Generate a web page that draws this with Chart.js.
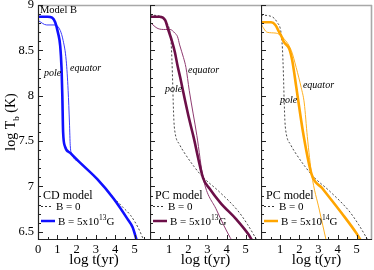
<!DOCTYPE html>
<html>
<head>
<meta charset="utf-8">
<script src="https://cdn.jsdelivr.net/npm/chart.js@4.4.1/dist/chart.umd.min.js"></script>
<style>
  html, body { margin: 0; padding: 0; background: #fff; }
  #wrap { position: relative; width: 374px; height: 270px; overflow: hidden; }
  canvas { position: absolute; top: 0; }
</style>
</head>
<body>
<div id="wrap">
  <canvas id="cd" width="150" height="270" style="left:0;width:150px;height:270px"></canvas>
  <canvas id="pc13" width="111" height="270" style="left:150px;width:111px;height:270px"></canvas>
  <canvas id="pc14" width="113" height="270" style="left:261px;width:113px;height:270px"></canvas>
</div>
<script>
// axis ticks
const tickYears = [0, 1, 2, 3, 4, 5];
const tickTemps = [6.5, 7, 7.5, 8, 8.5, 9];

// CD model, B = 5x10^13 G
const cdPoleLogt = [0, 0.5, 0.73, 0.89, 1.04, 1.15, 1.22, 1.26, 1.3, 1.4, 1.67, 2.19, 3.07, 3.9, 4.64, 4.9, 5.12];
const cdPoleLogT = [8.87, 8.87, 8.86, 8.81, 8.69, 8.55, 8.3, 8.0, 7.6, 7.44, 7.37, 7.26, 7.08, 6.87, 6.64, 6.55, 6.4];
const cdEquatorLogt = [0, 0.45, 0.89, 1.15, 1.3, 1.46, 1.56, 1.63, 1.67, 1.75, 2.19, 3.07, 3.9, 4.64, 4.9, 5.12];
const cdEquatorLogT = [8.83, 8.78, 8.78, 8.72, 8.61, 8.39, 8.06, 7.7, 7.45, 7.36, 7.26, 7.08, 6.87, 6.64, 6.55, 6.4];
const cdB0Logt = [0, 0.5, 0.73, 0.89, 1.04, 1.15, 1.22, 1.26, 1.3, 1.4, 1.67, 2.19, 3.07, 3.9, 4.4, 4.8, 5.2, 5.47];
const cdB0LogT = [8.87, 8.87, 8.86, 8.81, 8.69, 8.55, 8.3, 8.0, 7.6, 7.44, 7.37, 7.26, 7.08, 6.88, 6.77, 6.68, 6.54, 6.41];

// PC model, B = 0 (both PC panels)
const pcB0Logt = [0, 0.58, 0.84, 1.05, 1.12, 1.17, 1.21, 1.25, 1.32, 1.55, 1.8, 2.3, 2.73, 3.63, 4.6, 5.1, 5.58];
const pcB0LogT = [8.89, 8.87, 8.81, 8.69, 8.52, 8.25, 7.95, 7.72, 7.58, 7.46, 7.37, 7.22, 7.11, 6.94, 6.73, 6.58, 6.41];

// PC model, B = 5x10^13 G
const pc13PoleLogt = [0, 0.5, 0.8, 0.95, 1.15, 1.3, 1.44, 1.58, 1.84, 2.05, 2.26, 2.78, 3.1, 3.68, 4.5, 5.15, 5.32];
const pc13PoleLogT = [8.87, 8.87, 8.83, 8.73, 8.6, 8.48, 8.33, 8.2, 7.94, 7.74, 7.56, 7.09, 6.98, 6.82, 6.64, 6.47, 6.41];
const pc13EquatorLogt = [0, 0.42, 0.8, 1.05, 1.3, 1.44, 1.55, 1.75, 1.88, 2.05, 2.45, 2.78, 3.48, 4.18, 4.27];
const pc13EquatorLogT = [8.81, 8.74, 8.73, 8.73, 8.69, 8.65, 8.56, 8.42, 8.31, 8.06, 7.56, 7.09, 6.74, 6.44, 6.41];

// PC model, B = 5x10^14 G
const pc14PoleLogt = [0, 0.53, 0.75, 0.95, 1.1, 1.2, 1.47, 1.63, 1.84, 1.95, 2.21, 2.65, 3.2, 4.2, 5.0, 5.2];
const pc14PoleLogT = [8.81, 8.81, 8.78, 8.7, 8.64, 8.59, 8.52, 8.39, 8.1, 7.94, 7.58, 7.13, 6.98, 6.71, 6.48, 6.41];
const pc14EquatorLogt = [0, 0.32, 0.79, 1.1, 1.58, 1.84, 2.1, 2.26, 2.42, 2.65, 3.05, 3.4];
const pc14EquatorLogT = [8.79, 8.7, 8.69, 8.65, 8.5, 8.31, 8.09, 7.92, 7.55, 7.13, 6.74, 6.41];

const SERIF = '"Liberation Serif", "DejaVu Serif", serif';
Chart.defaults.font.family = SERIF;
Chart.defaults.color = '#000';

const pts = (xs, ys) => xs.map((x, i) => ({ x, y: ys[i] }));

function line(xs, ys, color, width, dash) {
  return {
    data: pts(xs, ys),
    borderColor: color,
    borderWidth: width,
    borderDash: dash || [],
    pointRadius: 0,
    cubicInterpolationMode: 'monotone',
    clip: 0
  };
}

// frame, inward ticks, labels and legend
function decor(p) {
  return {
    id: 'decor',
    afterDraw(chart) {
      const { ctx, chartArea: a, scales: { x, y } } = chart;
      ctx.save();
      ctx.strokeStyle = '#a8a8a8';
      ctx.lineWidth = 1.6;
      ctx.beginPath();
      ctx.moveTo(a.left, a.top + 0.5); ctx.lineTo(a.right, a.top + 0.5);
      if (p.rightEdge) { ctx.moveTo(a.right - 0.5, a.top); ctx.lineTo(a.right - 0.5, a.bottom); }
      ctx.stroke();

      ctx.strokeStyle = '#222';
      ctx.lineWidth = 1.2;
      ctx.beginPath();
      ctx.moveTo(a.left + 0.5, a.top); ctx.lineTo(a.left + 0.5, a.bottom);
      ctx.moveTo(a.left, a.bottom - 0.5); ctx.lineTo(a.right, a.bottom - 0.5);
      ctx.stroke();
      ctx.lineWidth = 1;
      ctx.beginPath();
      for (let k = 65; k <= 90; k++) {
        const py = Math.round(y.getPixelForValue(k / 10)) + 0.5;
        const len = k % 5 === 0 ? 5 : 3;
        ctx.moveTo(a.left, py); ctx.lineTo(a.left + len, py);
      }
      for (let k = 1; k <= 11; k++) {
        const px = Math.round(x.getPixelForValue(k / 2)) + 0.5;
        const len = k % 2 === 0 ? 5 : 3;
        ctx.moveTo(px, a.bottom); ctx.lineTo(px, a.bottom - len);
      }
      ctx.stroke();

      ctx.fillStyle = '#000';
      ctx.textBaseline = 'alphabetic';
      ctx.textAlign = 'left';
      if (p.modelTag) {
        ctx.font = '10.5px ' + SERIF;
        ctx.fillText(p.modelTag, x.getPixelForValue(0.1), y.getPixelForValue(8.91));
      }
      ctx.font = 'italic 10px ' + SERIF;
      ctx.fillText('pole', x.getPixelForValue(p.poleAt[0]), y.getPixelForValue(p.poleAt[1]));
      ctx.fillText('equator', x.getPixelForValue(p.eqAt[0]), y.getPixelForValue(p.eqAt[1]));

      // legend
      const lx = a.left;
      ctx.font = '12px ' + SERIF;
      ctx.fillText(p.title, lx + 5, 199);
      ctx.strokeStyle = '#333'; ctx.lineWidth = 1; ctx.setLineDash([2, 2]);
      ctx.beginPath(); ctx.moveTo(lx + 3, 206.5); ctx.lineTo(lx + 15, 206.5); ctx.stroke();
      ctx.setLineDash([]);
      ctx.strokeStyle = p.color; ctx.lineWidth = 2.5;
      ctx.beginPath(); ctx.moveTo(lx + 3, 221); ctx.lineTo(lx + 17, 221); ctx.stroke();
      ctx.font = '11px ' + SERIF;
      ctx.fillText('B = 0', lx + 18, 210);
      const base = 'B = 5x10';
      ctx.fillText(base, lx + 20, 225);
      let w = ctx.measureText(base).width;
      ctx.font = '7.5px ' + SERIF;
      ctx.fillText(p.exp, lx + 20 + w, 220);
      w += ctx.measureText(p.exp).width;
      ctx.font = '11px ' + SERIF;
      ctx.fillText('G', lx + 20 + w, 225);

      if (p.yTitle) {
        ctx.translate(15, 122);
        ctx.rotate(-Math.PI / 2);
        ctx.font = '14px ' + SERIF;
        const t1 = 'log T', t3 = ' (K)';
        const w1 = ctx.measureText(t1).width, w3 = ctx.measureText(t3).width;
        ctx.font = '9px ' + SERIF;
        const w2 = ctx.measureText('b').width;
        let sx = -(w1 + w2 + w3) / 2;
        ctx.font = '14px ' + SERIF;
        ctx.fillText(t1, sx, 0);
        ctx.font = '9px ' + SERIF;
        ctx.fillText('b', sx + w1, 4);
        ctx.font = '14px ' + SERIF;
        ctx.fillText(t3, sx + w1 + w2, 0);
      }
      ctx.restore();
    }
  };
}

function makePanel(id, p) {
  const yTicks = p.yTitle ? tickTemps : [];
  const xTicks = p.yTitle ? tickYears : tickYears.slice(1);
  new Chart(document.getElementById(id), {
    type: 'line',
    data: {
      datasets: [
        line(p.pole[0], p.pole[1], p.color, 2.6),
        line(p.eq[0], p.eq[1], p.thin, 1),
        line(p.b0[0], p.b0[1], '#333', 0.9, [2, 2])
      ]
    },
    options: {
      responsive: false,
      animation: false,
      events: [],
      layout: { padding: { top: 5, right: p.rightEdge ? 2 : 0, left: 0, bottom: 0 } },
      plugins: { legend: { display: false }, tooltip: { enabled: false } },
      scales: {
        x: {
          type: 'linear', min: 0, max: 5.8,
          grid: { display: false, drawTicks: false }, border: { display: false },
          ticks: { font: { size: 12.5 }, padding: 2, maxRotation: 0, callback: v => String(v) },
          afterBuildTicks: s => { s.ticks = xTicks.map(v => ({ value: v })); },
          afterFit: s => { s.height = 30; s.paddingLeft = 0; s.paddingRight = 0; },
          title: { display: true, text: 'log t(yr)', font: { size: 15 }, padding: { top: 0, bottom: 1 } }
        },
        y: {
          type: 'linear', min: 6.41, max: 9, display: !!p.yTitle,
          grid: { display: false, drawTicks: false }, border: { display: false },
          ticks: { font: { size: 12.5 }, padding: 4, callback: v => String(v) },
          afterBuildTicks: s => { s.ticks = yTicks.map(v => ({ value: v })); },
          afterFit: s => { s.width = p.yTitle ? 38 : 0; s.paddingTop = 0; s.paddingBottom = 0; }
        }
      }
    },
    plugins: [decor(p)]
  });
}

makePanel('cd', {
  title: 'CD model', exp: '13', color: '#1010ff', thin: '#3a3aff', yTitle: true, modelTag: 'Model B',
  pole: [cdPoleLogt, cdPoleLogT], eq: [cdEquatorLogt, cdEquatorLogT], b0: [cdB0Logt, cdB0LogT],
  poleAt: [0.31, 8.22], eqAt: [1.66, 8.27]
});
makePanel('pc13', {
  title: 'PC model', exp: '13', color: '#6c0f48', thin: '#8e3a70',
  pole: [pc13PoleLogt, pc13PoleLogT], eq: [pc13EquatorLogt, pc13EquatorLogT], b0: [pcB0Logt, pcB0LogT],
  poleAt: [0.78, 8.04], eqAt: [1.99, 8.25]
});
makePanel('pc14', {
  title: 'PC model', exp: '14', color: '#ffa500', thin: '#ffb020', rightEdge: true,
  pole: [pc14PoleLogt, pc14PoleLogT], eq: [pc14EquatorLogt, pc14EquatorLogT], b0: [pcB0Logt, pcB0LogT],
  poleAt: [0.99, 7.92], eqAt: [2.19, 8.08]
});
</script>
</body>
</html>
